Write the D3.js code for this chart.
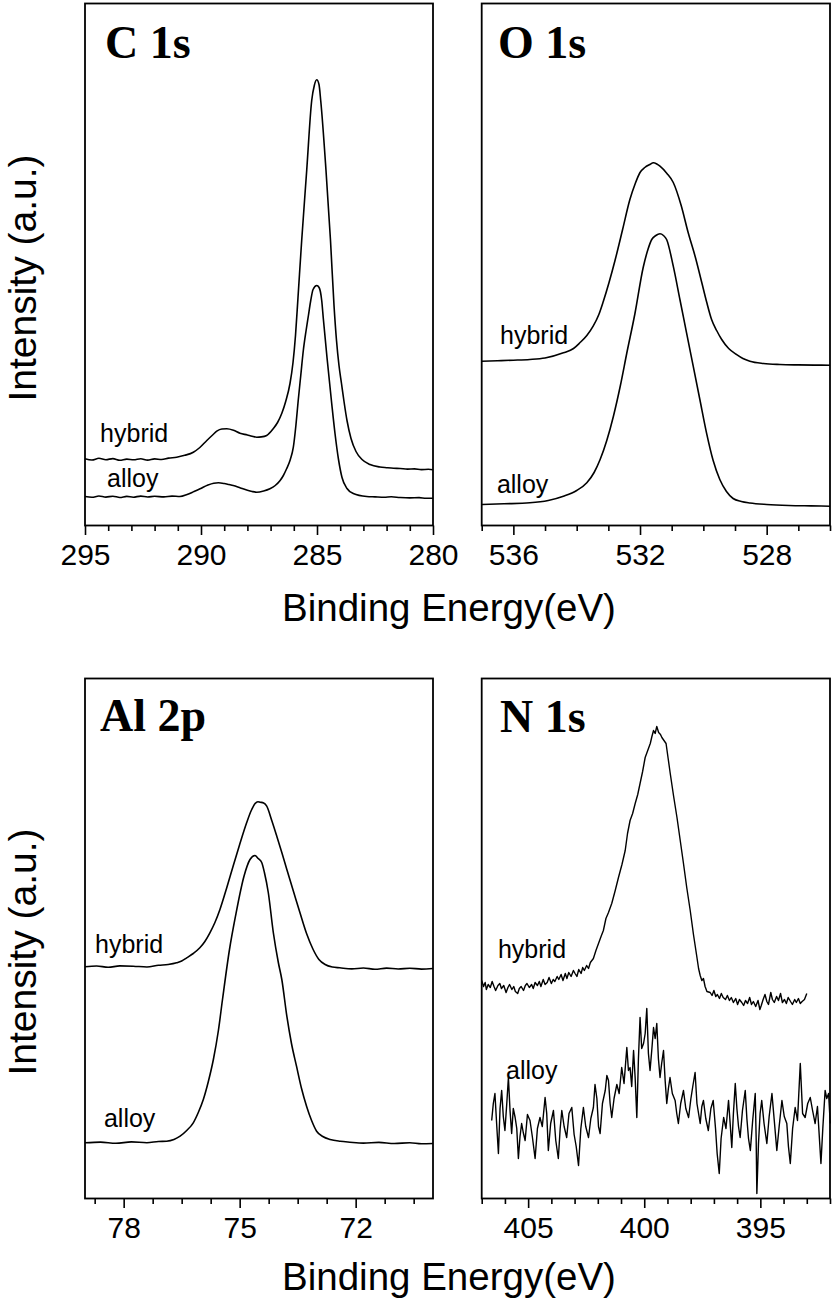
<!DOCTYPE html>
<html>
<head>
<meta charset="utf-8">
<script src="https://cdn.jsdelivr.net/npm/d3@7"></script>
<style>
  html, body { margin: 0; padding: 0; background: #fff; }
  svg { display: block; }
</style>
</head>
<body>
<svg id="chart" width="834" height="1302"></svg>
<script>
// ---------------- DATA (binding energy eV, intensity a.u.) ----------------
const c1sHybrid = [[295.0,66.7],[294.7,65.5],[294.4,67.2],[294.1,65.8],[293.8,66.9],[293.5,65.2],[293.2,66.4],[292.9,65.7],[292.6,66.8],[292.3,65.4],[292.0,66.6],[291.7,66.0],[291.4,67.4],[291.05,68.3],[290.7,70.2],[290.33,73.3],[290.05,78],[289.75,85],[289.5,90.5],[289.32,94.3],[289.1,96.5],[288.89,96.7],[288.6,95.2],[288.32,92.3],[288.0,90.5],[287.8,89.2],[287.6,88.3],[287.4,88.6],[287.17,90],[286.88,97],[286.7,103],[286.52,112],[286.35,124],[286.164,142],[286.034,163],[285.927,190],[285.819,228],[285.66,285],[285.444,355],[285.228,425],[285.116,440],[285.013,445.7],[284.914,441],[284.84,425],[284.612,355],[284.418,285],[284.267,220],[284.159,185],[284.052,160],[283.944,142],[283.836,124],[283.707,105],[283.534,87],[283.319,74],[283.06,66],[282.716,61],[282.285,58.5],[282.0,57.8],[281.7,57.2],[281.42,57],[281.1,56.4],[280.8,56.6],[280.5,55.9],[280.2,56.2],[280.0,55.7]];
const c1sAlloy = [[295.0,29],[294.7,28.2],[294.4,29.5],[294.1,28.4],[293.8,29.3],[293.5,28.0],[293.2,29.1],[292.92,28.3],[292.6,29.4],[292.3,28.5],[292.0,29.2],[291.6,28.6],[291.25,29.4],[290.91,29],[290.6,31],[290.3,34],[290.04,36.7],[289.7,40.5],[289.45,42.3],[289.25,42.7],[289.0,42],[288.8,41.0],[288.61,40],[288.3,37.5],[288.0,35.2],[287.8,34.0],[287.6,33.3],[287.3,34.5],[287.03,36.7],[286.8,40],[286.59,45],[286.45,50],[286.31,56.7],[286.15,66],[286.02,78.3],[285.91,100],[285.81,125],[285.7,150],[285.59,175],[285.47,195],[285.37,210],[285.27,225],[285.17,236],[285.01,240],[284.91,238],[284.797,225],[284.728,207],[284.569,168],[284.366,122],[284.224,92],[284.073,66],[283.922,48],[283.707,37],[283.435,32],[282.858,29],[282.5,28.6],[282.1,28.2],[281.8,28.7],[281.42,28],[281.0,27.6],[280.6,27.9],[280.3,27.2],[280.0,27.3]];

const o1sHybrid = [[537,164.3],[536.5,164.8],[536,165.3],[535.48,166],[535,167.5],[534.42,172.7],[534.1,177],[533.9,182.7],[533.68,190],[533.48,199.3],[533.3,211],[533.16,224],[532.79,265],[532.55,296],[532.32,326],[532.15,342],[532.0,353],[531.85,358],[531.69,361],[531.58,362.7],[531.47,361.5],[531.37,359.3],[531.15,352],[530.95,343],[530.7,320],[530.48,293],[530.25,268],[530.05,243],[529.9,224],[529.74,206],[529.58,195],[529.42,186],[529.2,177],[528.95,171],[528.75,167],[528.53,164.3],[528.1,162],[527.58,161],[527,160.6],[526.5,160.4],[526,160.3]];
const o1sAlloy = [[537,21],[536.3,21.7],[535.48,22.7],[534.9,25],[534.42,29.3],[534.0,35],[533.68,42.7],[533.45,53],[533.26,66],[533.05,85],[532.84,109.3],[532.62,140],[532.42,172],[532.16,212],[531.9,258],[531.75,276],[531.63,286],[531.5,290],[531.37,291.7],[531.26,290],[531.16,286],[530.95,259.3],[530.74,226],[530.53,192.6],[530.32,159.3],[530.11,126],[529.9,92.7],[529.69,65],[529.48,46],[529.27,34],[529.06,27],[528.8,24],[528.53,22.5],[528,21],[527.3,20],[526.6,19.6],[526,19.3]];

const al2pHybrid = [[79,231.7],[78.7,232.5],[78.4,231.2],[78.1,232.6],[77.75,232.3],[77.4,231.5],[77.1,233.2],[76.85,234],[76.63,235.7],[76.5,237.5],[76.37,240.7],[76.2,245],[76.03,250.7],[75.9,257],[75.77,265.7],[75.64,276],[75.51,289],[75.34,310],[75.17,332.3],[75.0,354],[74.82,375.7],[74.7,388],[74.6,395],[74.53,396.8],[74.47,396.3],[74.38,395.5],[74.3,392.3],[74.17,378],[74.04,362.3],[73.91,346],[73.78,329],[73.6,306],[73.44,285.7],[73.27,265],[73.1,249],[72.95,239],[72.79,234],[72.6,231.5],[72.41,230.7],[72.1,229.6],[71.8,230.5],[71.5,229.2],[71.2,230.4],[70.9,229.5],[70.6,230.3],[70.3,229.4],[70,230]];
const al2pAlloy = [[79,55.7],[78.6,56.4],[78.2,55.2],[77.8,56.6],[77.4,55.8],[77.1,57.0],[76.89,57.3],[76.7,59],[76.54,62.3],[76.37,68],[76.2,75.7],[76.07,86],[75.94,99],[75.81,117],[75.68,139],[75.55,168],[75.444,199],[75.263,249],[75.108,282.3],[74.888,322.3],[74.733,339],[74.604,343],[74.52,340],[74.43,336],[74.36,326],[74.26,306],[74.13,266],[74.0,236],[73.91,219],[73.78,182.3],[73.66,155],[73.53,132.3],[73.4,110],[73.27,92.3],[73.14,78],[73.01,67.3],[72.85,62],[72.66,59],[72.4,57.2],[72.15,56.3],[71.8,55.4],[71.4,56.1],[71.0,55.0],[70.6,55.8],[70.3,54.8],[70,55]];

const n1sHybrid = [[407.00,218],[406.92,212],[406.85,216],[406.80,209],[406.72,214],[406.63,211],[406.55,217],[406.47,212],[406.40,208],[406.30,213],[406.22,215],[406.15,210],[406.05,213],[405.95,206],[405.87,211],[405.80,214],[405.70,209],[405.62,212],[405.55,207],[405.45,205],[405.38,210],[405.30,212],[405.20,208],[405.12,213],[405.05,215],[404.95,211],[404.85,214],[404.78,210],[404.70,216],[404.60,213],[404.52,217],[404.45,212],[404.35,219],[404.27,214],[404.18,216],[404.10,221],[404.00,215],[403.92,219],[403.85,217],[403.75,222],[403.68,219],[403.58,224],[403.50,218],[403.40,225],[403.33,220],[403.25,226],[403.15,222],[403.05,228],[402.98,225],[402.90,222],[402.82,229],[402.72,225],[402.65,231],[402.58,228],[402.48,233],[402.40,230],[402.32,236],[402.19,240],[402.08,248],[401.97,255],[401.86,262],[401.76,268],[401.65,280],[401.54,286],[401.40,295],[401.25,308],[401.11,321],[400.96,334],[400.82,348],[400.72,365],[400.61,378],[400.50,385],[400.39,395],[400.28,404],[400.18,415],[400.07,427],[399.96,441],[399.85,448],[399.74,455],[399.67,462],[399.60,468],[399.53,465],[399.46,472],[399.38,466],[399.30,464],[399.24,461],[399.15,458],[399.06,455],[398.97,440],[398.88,425],[398.74,403],[398.59,381],[398.45,358],[398.31,335],[398.17,311],[398.02,288],[397.88,264],[397.73,241],[397.66,230],[397.59,223],[397.52,218],[397.45,220],[397.38,212],[397.30,207],[397.16,206],[397.08,203],[397.00,208],[396.92,202],[396.85,204],[396.76,200],[396.68,205],[396.60,201],[396.50,199],[396.42,203],[396.33,198],[396.25,201],[396.16,196],[396.06,200],[395.98,194],[395.90,199],[395.80,196],[395.72,193],[395.64,198],[395.55,195],[395.46,201],[395.38,194],[395.30,197],[395.20,192],[395.10,198],[395.02,189],[394.96,193],[394.88,199],[394.80,204],[394.72,197],[394.65,194],[394.55,206],[394.48,199],[394.40,196],[394.30,202],[394.22,198],[394.13,205],[394.05,196],[393.96,199],[393.88,195],[393.80,201],[393.70,197],[393.62,194],[393.52,199],[393.45,196],[393.36,200],[393.28,195],[393.20,197],[393.10,199],[393.00,205]];
const n1sAlloy = [[406.57,78],[406.50,95],[406.43,105],[406.35,72],[406.28,45],[406.21,90],[406.14,108],[406.07,82],[406.00,68],[405.92,95],[405.85,121],[405.78,88],[405.71,65],[405.64,90],[405.56,81],[405.49,70],[405.42,40],[405.35,62],[405.28,75],[405.21,66],[405.13,58],[405.03,84],[404.92,78],[404.82,62],[404.70,40],[404.60,70],[404.49,81],[404.39,72],[404.27,101],[404.20,85],[404.13,48],[404.03,75],[403.91,88],[403.81,58],[403.70,40],[403.62,70],[403.55,88],[403.45,72],[403.34,61],[403.24,85],[403.12,91],[403.02,64],[402.93,52],[402.83,33],[402.73,70],[402.62,91],[402.52,72],[402.40,61],[402.30,80],[402.19,91],[402.12,114],[402.04,100],[401.97,72],[401.90,65],[401.80,95],[401.68,108],[401.61,123],[401.54,118],[401.47,95],[401.40,81],[401.30,100],[401.18,114],[401.08,105],[400.97,131],[400.87,115],[400.75,151],[400.68,128],[400.61,131],[400.54,112],[400.46,148],[400.39,120],[400.32,81],[400.25,140],[400.18,181],[400.11,150],[400.03,155],[399.96,165],[399.89,190],[399.82,145],[399.75,128],[399.67,150],[399.60,171],[399.53,160],[399.46,175],[399.39,140],[399.32,121],[399.25,135],[399.17,148],[399.10,118],[399.03,95],[398.96,110],[398.89,121],[398.79,105],[398.67,98],[398.60,85],[398.53,75],[398.43,95],[398.31,108],[398.21,90],[398.09,81],[397.99,100],[397.91,112],[397.81,126],[397.73,95],[397.66,85],[397.59,75],[397.52,92],[397.45,98],[397.35,80],[397.24,68],[397.13,90],[397.03,98],[396.93,70],[396.86,45],[396.77,25],[396.69,60],[396.58,81],[396.48,70],[396.37,98],[396.30,75],[396.23,51],[396.16,85],[396.08,115],[396.01,90],[395.94,72],[395.87,61],[395.77,88],[395.65,108],[395.58,80],[395.51,60],[395.43,48],[395.33,78],[395.22,105],[395.18,60],[395.15,5],[395.08,55],[395.01,85],[394.94,98],[394.84,75],[394.72,55],[394.62,82],[394.50,105],[394.40,78],[394.29,48],[394.19,72],[394.07,98],[393.97,82],[393.86,75],[393.79,52],[393.71,35],[393.61,70],[393.50,91],[393.40,78],[393.28,135],[393.18,85],[393.07,81],[392.96,95],[392.85,101],[392.75,88],[392.64,75],[392.54,92],[392.39,35],[392.31,70],[392.21,108],[392.14,100],[392.06,105],[391.99,75]];

// tick labels
const c1sTicks = [295, 290, 285, 280];
const o1sTicks = [536, 532, 528];
const al2pTicks = [78, 75, 72];
const n1sTicks = [405, 400, 395];

// series label anchors [text, eV, intensity]
const c1sLabels = [["hybrid", 294.35, 83.5], ["alloy", 294.05, 38.5]];
const o1sLabels = [["hybrid", 536.42, 181.5], ["alloy", 536.52, 32.5]];
const al2pLabels = [["hybrid", 78.74, 245.5], ["alloy", 78.51, 71.5]];
const n1sLabels = [["hybrid", 406.3, 240.5], ["alloy", 405.95, 119.5]];

const titles = ["C 1s", "O 1s", "Al 2p", "N 1s"];
const xTitle = "Binding Energy(eV)";
const yTitle = "Intensity (a.u.)";

// ---------------- LAYOUT ----------------
const panels = [
  { title: titles[0], series: [c1sHybrid, c1sAlloy], labels: c1sLabels, dom: [295, 280], ticks: c1sTicks, minor: 1,
    x0: 85, x1: 433, y0: 3.5, y1: 525.5, yMax: 522, smooth: true, tdx: 20, tdy: 54.5 },
  { title: titles[1], series: [o1sHybrid, o1sAlloy], labels: o1sLabels, dom: [537, 526], ticks: o1sTicks, minor: 1,
    x0: 481.7, x1: 830, y0: 3.5, y1: 525.5, yMax: 522, smooth: true, tdx: 16.3, tdy: 54.5 },
  { title: titles[2], series: [al2pHybrid, al2pAlloy], labels: al2pLabels, dom: [79, 70], ticks: al2pTicks, minor: 0.75,
    x0: 85, x1: 433, y0: 678.5, y1: 1198.5, yMax: 520, smooth: true, tdx: 15, tdy: 52.5 },
  { title: titles[3], series: [n1sHybrid, n1sAlloy], labels: n1sLabels, dom: [407, 392], ticks: n1sTicks, minor: 1,
    x0: 481.7, x1: 830, y0: 678.5, y1: 1198.5, yMax: 520, smooth: false, tdx: 18.3, tdy: 53.5 }
];

const svg = d3.select("#chart");
const sans = "'Liberation Sans', Arial, sans-serif";
const serif = "'Liberation Serif', 'Times New Roman', serif";

panels.forEach(p => {
  const x = d3.scaleLinear().domain(p.dom).range([p.x0, p.x1]);
  const y = d3.scaleLinear().domain([0, p.yMax]).range([p.y1, p.y1 - p.yMax]);
  const g = svg.append("g");

  // curves
  const line = d3.line()
    .x(d => x(d[0])).y(d => y(d[1]))
    .curve(p.smooth ? d3.curveMonotoneX : d3.curveLinear);
  p.series.forEach(s => {
    g.append("path").datum(s).attr("d", line)
      .attr("fill", "none").attr("stroke", "#000")
      .attr("stroke-width", p.smooth ? 1.6 : 1.4)
      .attr("stroke-linejoin", "round");
  });

  // minor ticks
  const lo = Math.min(...p.dom), hi = Math.max(...p.dom);
  const minorVals = [];
  for (let v = p.ticks[0]; v <= hi + 1e-6; v += p.minor) minorVals.push(+v.toFixed(3));
  for (let v = p.ticks[0] - p.minor; v >= lo - 1e-6; v -= p.minor) minorVals.push(+v.toFixed(3));
  const minorOnly = minorVals.filter(v => !p.ticks.some(t => Math.abs(t - v) < 1e-6));

  const minorAxis = d3.axisBottom(x).tickValues(minorOnly).tickSize(5.5).tickFormat("");
  const gm = g.append("g").attr("transform", `translate(0,${p.y1})`).call(minorAxis);
  gm.select(".domain").remove();
  gm.selectAll("line").attr("stroke", "#000").attr("stroke-width", 1.6);

  const majorAxis = d3.axisBottom(x).tickValues(p.ticks).tickSize(9.5).tickPadding(9).tickFormat(d3.format("d"));
  const ga = g.append("g").attr("transform", `translate(0,${p.y1})`).call(majorAxis);
  ga.select(".domain").remove();
  ga.selectAll("line").attr("stroke", "#000").attr("stroke-width", 1.6);
  ga.selectAll("text").attr("font-family", sans).attr("font-size", 30).attr("fill", "#000");

  // frame
  g.append("rect").attr("x", p.x0).attr("y", p.y0)
    .attr("width", p.x1 - p.x0).attr("height", p.y1 - p.y0)
    .attr("fill", "none").attr("stroke", "#000").attr("stroke-width", 1.8);

  // panel title
  g.append("text").attr("x", p.x0 + p.tdx).attr("y", p.y0 + p.tdy)
    .attr("font-family", serif).attr("font-weight", "bold").attr("font-size", 46)
    .text(p.title);

  // series labels
  p.labels.forEach(l => {
    g.append("text").attr("x", x(l[1])).attr("y", y(l[2]))
      .attr("font-family", sans).attr("font-size", 25).text(l[0]);
  });
});

// axis titles
[621, 1290].forEach(by => {
  svg.append("text").attr("x", 449).attr("y", by).attr("text-anchor", "middle")
    .attr("font-family", sans).attr("font-size", 38.5).text(xTitle);
});
[278, 952].forEach(cy => {
  svg.append("text").attr("transform", `translate(36,${cy}) rotate(-90)`)
    .attr("text-anchor", "middle").attr("font-family", sans).attr("font-size", 39).text(yTitle);
});
</script>
</body>
</html>
